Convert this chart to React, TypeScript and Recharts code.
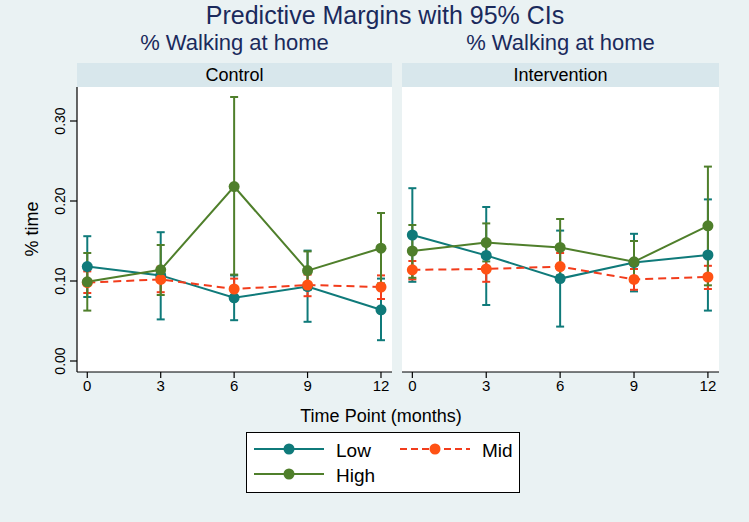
import React from 'react';
import { LineChart, Line, XAxis, YAxis, CartesianGrid, ErrorBar } from 'recharts';

const FONT = '"Liberation Sans", Arial, Helvetica, sans-serif';

const months = [0, 3, 6, 9, 12];
const yTicks = [0, 0.1, 0.2, 0.3];
const xTicks = [0, 3, 6, 9, 12];
const panelTitles = ['Control', 'Intervention'];
const seriesNames = ['Low', 'Mid', 'High'];

// Control
const lowC = [0.118, 0.107, 0.079, 0.093, 0.064];
const lowCLo = [0.080, 0.052, 0.051, 0.049, 0.026];
const lowCHi = [0.156, 0.161, 0.107, 0.138, 0.103];
const midC = [0.098, 0.102, 0.090, 0.095, 0.0925];
const midCLo = [0.085, 0.086, 0.078, 0.081, 0.0775];
const midCHi = [0.112, 0.118, 0.103, 0.108, 0.107];
const highC = [0.099, 0.114, 0.218, 0.113, 0.141];
const highCLo = [0.063, 0.0825, 0.108, 0.089, 0.097];
const highCHi = [0.135, 0.145, 0.330, 0.137, 0.185];

// Intervention
const lowI = [0.1575, 0.132, 0.103, 0.123, 0.1325];
const lowILo = [0.099, 0.070, 0.043, 0.087, 0.063];
const lowIHi = [0.216, 0.1925, 0.163, 0.159, 0.202];
const midI = [0.114, 0.115, 0.118, 0.102, 0.105];
const midILo = [0.102, 0.099, 0.102, 0.089, 0.090];
const midIHi = [0.125, 0.131, 0.135, 0.115, 0.119];
const highI = [0.1375, 0.148, 0.142, 0.124, 0.169];
const highILo = [0.104, 0.1245, 0.107, 0.099, 0.0946];
const highIHi = [0.170, 0.172, 0.1775, 0.150, 0.243];

const TEAL = '#0f7a7a';
const GREEN = '#4f7f2b';
const ORANGE = '#ff5214';
const REDLINE = '#f23c1c';

const BG = '#eaf2f3';
const STRIP = '#d8e7ec';
const GRID = '#d6e8ec';
const NAVY = '#1a2a5c';

function buildRows(
  low: number[], lowLo: number[], lowHi: number[],
  mid: number[], midLo: number[], midHi: number[],
  high: number[], highLo: number[], highHi: number[]
) {
  return months.map((m, i) => ({
    month: m,
    low: low[i],
    lowErr: [low[i] - lowLo[i], lowHi[i] - low[i]],
    mid: mid[i],
    midErr: [mid[i] - midLo[i], midHi[i] - mid[i]],
    high: high[i],
    highErr: [high[i] - highLo[i], highHi[i] - high[i]],
  }));
}

const controlRows = buildRows(lowC, lowCLo, lowCHi, midC, midCLo, midCHi, highC, highCLo, highCHi);
const interventionRows = buildRows(lowI, lowILo, lowIHi, midI, midILo, midIHi, highI, highILo, highIHi);

const YTick = (props: any) => {
  const { x, y, payload } = props;
  const tx = x - 3;
  return (
    <text
      x={tx}
      y={y}
      transform={`rotate(-90 ${tx} ${y})`}
      textAnchor="middle"
      fontSize={14}
      fontFamily={FONT}
      fill="#000"
    >
      {Number(payload.value).toFixed(2)}
    </text>
  );
};

const Panel = ({ rows, showY, width }: { rows: any[]; showY: boolean; width: number }) => (
  <LineChart
    width={width}
    height={320}
    data={rows}
    margin={{ top: 0, right: 0, bottom: 5, left: 0 }}
  >
    <rect x={showY ? 77 : 0} y={0} width={showY ? width - 77 : width} height={285} fill="#ffffff" />
    <CartesianGrid vertical={false} stroke={GRID} strokeWidth={1.2} />
    <XAxis
      dataKey="month"
      type="number"
      domain={[-0.42, 12.45]}
      ticks={xTicks}
      allowDataOverflow
      height={30}
      axisLine={{ stroke: '#000', strokeWidth: 1.2 }}
      tickLine={{ stroke: '#000', strokeWidth: 1.2 }}
      tickSize={6}
      tick={{ fontSize: 15, fontFamily: FONT, fill: '#000' }}
    />
    <YAxis
      hide={!showY}
      type="number"
      domain={[-0.01375, 0.3425]}
      ticks={yTicks}
      allowDataOverflow
      width={77}
      axisLine={{ stroke: '#000', strokeWidth: 1.2 }}
      tickLine={{ stroke: '#000', strokeWidth: 1.2 }}
      tickSize={7}
      tickMargin={2}
      tick={<YTick />}
    />
    <Line
      dataKey="low"
      stroke={TEAL}
      strokeWidth={2}
      dot={{ r: 5.5, fill: TEAL, stroke: TEAL, strokeWidth: 0 }}
      isAnimationActive={false}
    >
      <ErrorBar dataKey="lowErr" stroke={TEAL} strokeWidth={2} width={4} direction="y" />
    </Line>
    <Line
      dataKey="mid"
      stroke={REDLINE}
      strokeWidth={2}
      strokeDasharray="8 5"
      dot={{ r: 5.5, fill: ORANGE, stroke: ORANGE, strokeWidth: 0 }}
      isAnimationActive={false}
    >
      <ErrorBar dataKey="midErr" stroke={REDLINE} strokeWidth={2} width={4} direction="y" />
    </Line>
    <Line
      dataKey="high"
      stroke={GREEN}
      strokeWidth={2}
      dot={{ r: 5.5, fill: GREEN, stroke: GREEN, strokeWidth: 0 }}
      isAnimationActive={false}
    >
      <ErrorBar dataKey="highErr" stroke={GREEN} strokeWidth={2} width={4} direction="y" />
    </Line>
  </LineChart>
);

const LegendSwatch = ({ color, lineColor, dashed }: { color: string; lineColor: string; dashed?: boolean }) => (
  <svg width={70} height={14} style={{ display: 'block' }}>
    <line x1={0} y1={7} x2={70} y2={7} stroke={lineColor} strokeWidth={2} strokeDasharray={dashed ? '7 4' : undefined} />
    <circle cx={35} cy={7} r={5.5} fill={color} />
  </svg>
);

const abs = (left: number, top: number, extra: React.CSSProperties = {}): React.CSSProperties => ({
  position: 'absolute',
  left,
  top,
  ...extra,
});

const legendText: React.CSSProperties = { position: 'absolute', fontSize: 19, lineHeight: '20px', color: '#000', whiteSpace: 'nowrap' };

export default function App() {
  return (
    <div style={{ position: 'absolute', left: 0, top: 0, width: 749, height: 522, background: BG, fontFamily: FONT, overflow: 'hidden' }}>
      <div style={abs(85, 1, { width: 600, textAlign: 'center', fontSize: 25, color: NAVY, lineHeight: '28px', whiteSpace: 'nowrap' })}>
        Predictive Margins with 95% CIs
      </div>
      <div style={abs(77, 30, { width: 315, textAlign: 'center', fontSize: 22, color: NAVY, lineHeight: '26px', whiteSpace: 'nowrap' })}>
        % Walking at home
      </div>
      <div style={abs(402, 30, { width: 317, textAlign: 'center', fontSize: 22, color: NAVY, lineHeight: '26px', whiteSpace: 'nowrap' })}>
        % Walking at home
      </div>
      <div style={abs(77, 63, { width: 315, height: 24, background: STRIP, textAlign: 'center', fontSize: 18, lineHeight: '24px', color: '#000' })}>
        {panelTitles[0]}
      </div>
      <div style={abs(402, 63, { width: 317, height: 24, background: STRIP, textAlign: 'center', fontSize: 18, lineHeight: '24px', color: '#000' })}>
        {panelTitles[1]}
      </div>

      <div style={abs(0, 87)}>
        <Panel rows={controlRows} showY={true} width={392} />
      </div>
      <div style={abs(402, 87)}>
        <Panel rows={interventionRows} showY={false} width={317} />
      </div>

      <div style={abs(2, 217, { width: 60, height: 24, textAlign: 'center', fontSize: 18, lineHeight: '24px', transform: 'rotate(-90deg)', color: '#000', whiteSpace: 'nowrap' })}>
        % time
      </div>

      <div style={abs(60, 404, { width: 642, textAlign: 'center', fontSize: 18, lineHeight: '24px', color: '#000', whiteSpace: 'nowrap' })}>
        Time Point (months)
      </div>

      <div style={abs(246, 432, { width: 274, height: 61, background: '#fff', border: '1px solid #000', boxSizing: 'border-box' })}>
        <div style={abs(7, 8.5)}>
          <LegendSwatch color={TEAL} lineColor={TEAL} />
        </div>
        <span style={{ ...legendText, left: 89, top: 7.5 }}>{seriesNames[0]}</span>
        <div style={abs(153, 8.5)}>
          <LegendSwatch color={ORANGE} lineColor={REDLINE} dashed />
        </div>
        <span style={{ ...legendText, left: 235, top: 7.5 }}>{seriesNames[1]}</span>
        <div style={abs(7, 34)}>
          <LegendSwatch color={GREEN} lineColor={GREEN} />
        </div>
        <span style={{ ...legendText, left: 89, top: 32.7 }}>{seriesNames[2]}</span>
      </div>
    </div>
  );
}
